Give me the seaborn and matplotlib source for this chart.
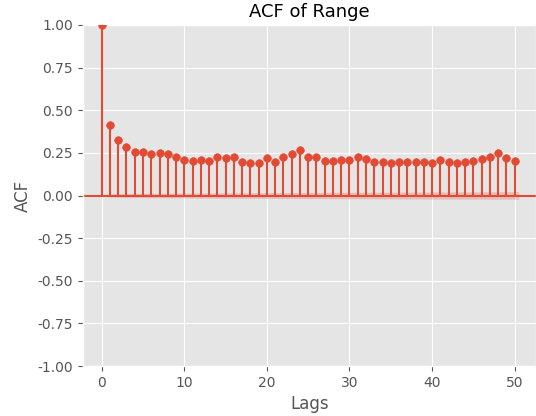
import numpy as np
import pandas as pd
import matplotlib
matplotlib.use("Agg")
import matplotlib.pyplot as plt
import seaborn as sns

plt.style.use("ggplot")

lags = list(range(0, 51))
acf_values = [1.000, 0.416, 0.324, 0.286, 0.257, 0.257, 0.245, 0.247, 0.243, 0.226,
              0.208, 0.204, 0.208, 0.204, 0.226, 0.219, 0.226, 0.198, 0.188, 0.192,
              0.218, 0.196, 0.226, 0.243, 0.265, 0.226, 0.226, 0.204, 0.204, 0.208,
              0.208, 0.226, 0.214, 0.198, 0.198, 0.192, 0.198, 0.198, 0.194, 0.198,
              0.188, 0.208, 0.198, 0.192, 0.198, 0.204, 0.214, 0.224, 0.251, 0.218,
              0.204]
n_obs = 47000  # sample size behind the 95% band (estimated from band width)

color = "#E24A33"
df = pd.DataFrame({"lag": lags, "acf": acf_values})

fig = plt.figure(figsize=(5.36, 4.16), dpi=100)
ax = fig.add_axes([82.7 / 536, 50 / 416, (536 - 82.7) / 536, 341 / 416])

# Bartlett confidence band
r = np.array(acf_values)
var = np.ones(len(r)) / n_obs
var[0] = 0
var[2:] *= 1 + 2 * np.cumsum(r[1:-1] ** 2)
conf = 1.96 * np.sqrt(var)
band_x = np.array(lags, dtype=float)
band_x[0] -= 0.5
band_x[-1] += 0.5
ax.fill_between(band_x, -conf, conf, color=color, alpha=0.25, linewidth=0)

ax.axhline(0, color=color, linewidth=1.5)
ax.vlines(df["lag"], 0, df["acf"], color=color, linewidth=1.5)
sns.scatterplot(data=df, x="lag", y="acf", ax=ax, color=color, s=30,
                edgecolor=color, linewidth=0.5, zorder=3)

ax.set_xlim(-2.3, 52.58)
ax.set_ylim(-1, 1)
ax.set_yticks(np.arange(-1, 1.01, 0.25))
ax.set_yticklabels([f"{v:.2f}" for v in np.arange(-1, 1.01, 0.25)])
ax.set_xticks([0, 10, 20, 30, 40, 50])
ax.set_title("ACF of Range", color="black", fontsize=13)
ax.set_xlabel("Lags", fontsize=12)
ax.set_ylabel("ACF", fontsize=12)

fig.savefig("out.png", dpi=100)
